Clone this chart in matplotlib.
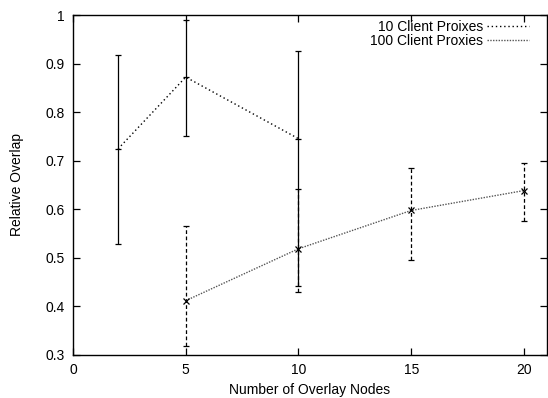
import matplotlib
matplotlib.use("Agg")
import matplotlib.pyplot as plt
from matplotlib.ticker import FuncFormatter

plt.rcParams['font.family'] = ['Liberation Sans', 'DejaVu Sans']

# 10 client proxies
x10 = [2, 5, 10]
mean10 = [0.724, 0.872, 0.745]
low10 = [0.528, 0.751, 0.442]
high10 = [0.918, 0.990, 0.926]

# 100 client proxies
x100 = [5, 10, 15, 20]
mean100 = [0.411, 0.518, 0.597, 0.638]
low100 = [0.318, 0.428, 0.495, 0.576]
high100 = [0.564, 0.642, 0.684, 0.695]

xticks = [0, 5, 10, 15, 20]
yticks = [0.3, 0.4, 0.5, 0.6, 0.7, 0.8, 0.9, 1.0]

fig = plt.figure(figsize=(5.48, 3.98), dpi=100)
ax = fig.add_axes([73/548, 1-354.5/398, 473.5/548, 339.5/398])

# error bars
err10 = [[m - l for m, l in zip(mean10, low10)], [h - m for m, h in zip(mean10, high10)]]
err100 = [[m - l for m, l in zip(mean100, low100)], [h - m for m, h in zip(mean100, high100)]]

ax.errorbar(x10, mean10, yerr=err10, fmt='none', ecolor='black',
            elinewidth=0.9, capsize=2.5, capthick=0.9)
ax.plot(x10, mean10, linestyle='none', marker='_', color='black', markersize=5, mew=0.9)
ax.plot(x10, mean10, color='black', linestyle=(0, (1, 2)), linewidth=1.0,
        label='10 Client Proixes')

eb2 = ax.errorbar(x100, mean100, yerr=err100, fmt='none', ecolor='black',
                  elinewidth=0.9, capsize=2.5, capthick=0.9)
eb2[2][0].set_linestyle((0, (3, 2)))
ax.plot(x100, mean100, color='#555555', linestyle=(0, (1, 1)), linewidth=1.0,
        label='100 Client Proxies')
ax.plot(x100, mean100, linestyle='none', marker='x', color='black', markersize=5, mew=0.9)

ax.set_xlim(0, 21)
ax.set_ylim(0.3, 1.0)
ax.set_xticks(xticks)
ax.set_yticks(yticks)
ax.yaxis.set_major_formatter(FuncFormatter(lambda v, p: '%g' % round(v, 2)))
ax.tick_params(direction='in', top=True, right=True, length=5, width=0.9, labelsize=10, pad=6)
for s in ax.spines.values():
    s.set_linewidth(1.0)

ax.set_xlabel('Number of Overlay Nodes', fontsize=10)
ax.xaxis.set_label_coords(0.5, -(389.7 - 354.5) / 339.5)
ax.xaxis.label.set_va('center')
ax.set_ylabel('Relative Overlap', fontsize=10)
ax.yaxis.set_label_coords(-(73 - 17) / 473.5, 0.5)
ax.yaxis.label.set_va('center')

ax.legend(loc='upper right', frameon=False, markerfirst=False, fontsize=10,
          handlelength=3.0, handletextpad=0.3, labelspacing=0.0,
          borderpad=0, borderaxespad=0, bbox_to_anchor=(0.963, 0.985))

fig.savefig('out.png', dpi=100)
